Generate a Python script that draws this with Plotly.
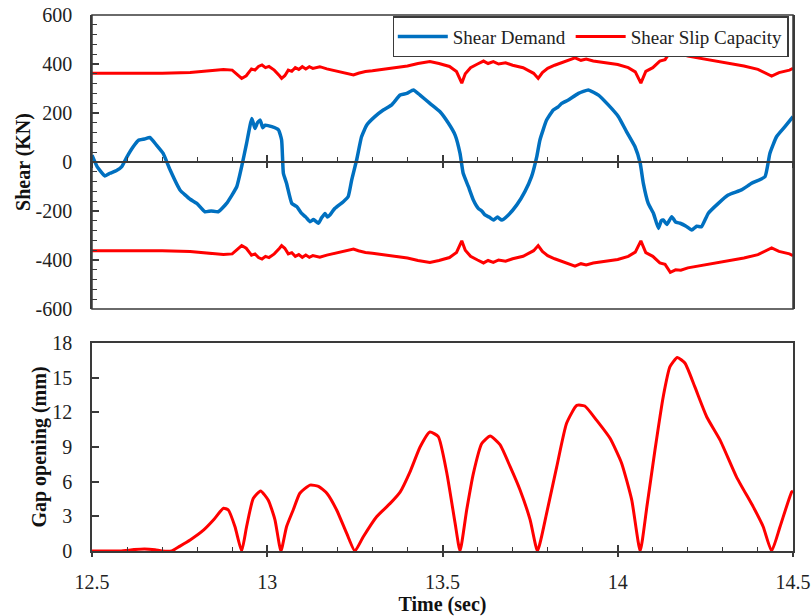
import plotly.graph_objects as go

# ---------------- data ----------------
t_demand = [12.500, 12.515, 12.537, 12.551, 12.570, 12.585, 12.599, 12.618, 12.632, 12.650,
            12.665, 12.684, 12.703, 12.723, 12.751, 12.780, 12.799, 12.822, 12.840, 12.860,
            12.884, 12.913, 12.927, 12.941, 12.956, 12.965, 12.972, 12.980, 12.987, 12.994,
            13.013, 13.032, 13.041, 13.046, 13.055, 13.070, 13.084, 13.098, 13.110, 13.122,
            13.132, 13.146, 13.155, 13.165, 13.172, 13.179, 13.193, 13.217, 13.231, 13.241,
            13.255, 13.269, 13.284, 13.307, 13.331, 13.355, 13.379, 13.398, 13.417, 13.436,
            13.464, 13.493, 13.517, 13.536, 13.550, 13.559, 13.574, 13.588, 13.602, 13.612,
            13.621, 13.633, 13.645, 13.657, 13.669, 13.688, 13.712, 13.735, 13.754, 13.769,
            13.778, 13.797, 13.816, 13.830, 13.840, 13.859, 13.888, 13.916, 13.945, 13.973,
            14.002, 14.025, 14.049, 14.064, 14.073, 14.087, 14.102, 14.116, 14.124, 14.130,
            14.140, 14.154, 14.165, 14.178, 14.195, 14.211, 14.225, 14.239, 14.258, 14.287,
            14.315, 14.353, 14.382, 14.420, 14.434, 14.453, 14.477, 14.500]
shear_demand = [28, -20, -57, -46, -35, -19, 19, 63, 88, 94,
                100, 69, 35, -33, -114, -152, -169, -203, -200, -203,
                -169, -101, -19, 76, 178, 137, 160, 171, 140, 150,
                144, 131, 90, -46, -87, -169, -182, -210, -225, -244,
                -235, -250, -228, -210, -225, -216, -189, -162, -141, -73,
                8, 103, 151, 185, 212, 233, 273, 280, 294, 273,
                239, 205, 158, 110, 35, -46, -101, -155, -189, -200,
                -216, -225, -237, -225, -237, -216, -175, -121, -60, 22,
                90, 171, 212, 225, 239, 253, 280, 294, 273, 233,
                185, 124, 63, -5, -87, -169, -210, -271, -240, -237,
                -255, -223, -245, -250, -262, -278, -262, -264, -210, -169,
                -135, -114, -87, -60, 35, 103, 144, 185]

t_capacity = [12.50, 12.60, 12.70, 12.78, 12.83, 12.875, 12.90, 12.915, 12.927, 12.94,
              12.955, 12.965, 12.975, 12.985, 12.995, 13.005, 13.02, 13.035, 13.041, 13.05,
              13.06, 13.07, 13.08, 13.09, 13.10, 13.11, 13.12, 13.13, 13.15, 13.17,
              13.20, 13.225, 13.246, 13.26, 13.28, 13.30, 13.33, 13.36, 13.40, 13.43,
              13.464, 13.49, 13.52, 13.54, 13.555, 13.565, 13.58, 13.60, 13.617, 13.63,
              13.645, 13.66, 13.68, 13.70, 13.73, 13.76, 13.773, 13.785, 13.80, 13.82,
              13.84, 13.86, 13.878, 13.895, 13.91, 13.93, 13.96, 14.00, 14.03, 14.05,
              14.066, 14.08, 14.10, 14.12, 14.135, 14.15, 14.165, 14.18, 14.20, 14.23,
              14.26, 14.29, 14.32, 14.36, 14.40, 14.439, 14.46, 14.475, 14.49, 14.50]
slip_capacity = [362, 361, 362, 365, 372, 378, 375, 355, 341, 352,
                 380, 375, 390, 396, 385, 390, 375, 352, 341, 352,
                 375, 370, 385, 378, 389, 380, 389, 382, 389, 380,
                 370, 360, 355, 362, 369, 372, 378, 385, 392, 402,
                 410, 402, 390, 369, 322, 360, 385, 400, 412, 402,
                 410, 400, 405, 395, 385, 362, 341, 365, 382, 395,
                 405, 418, 425, 415, 420, 412, 405, 398, 385, 368,
                 322, 370, 385, 412, 418, 450, 440, 442, 432, 425,
                 418, 410, 402, 392, 378, 351, 365, 370, 375, 382]

t_gap = [12.50, 12.58, 12.62, 12.65, 12.68, 12.70, 12.727, 12.75, 12.78, 12.818,
         12.847, 12.875, 12.889, 12.908, 12.927, 12.941, 12.960, 12.981, 13.003, 13.022,
         13.039, 13.055, 13.074, 13.093, 13.122, 13.146, 13.170, 13.198, 13.227, 13.250,
         13.274, 13.312, 13.350, 13.379, 13.408, 13.436, 13.464, 13.488, 13.512, 13.536,
         13.550, 13.569, 13.588, 13.612, 13.636, 13.664, 13.693, 13.721, 13.750, 13.771,
         13.797, 13.826, 13.854, 13.883, 13.906, 13.940, 13.978, 14.011, 14.040, 14.064,
         14.083, 14.106, 14.130, 14.149, 14.170, 14.192, 14.220, 14.254, 14.292, 14.339,
         14.387, 14.415, 14.439, 14.463, 14.496, 14.500]
gap_opening = [0, 0, 0.12, 0.17, 0.1, 0, 0, 0.4, 0.95, 1.8,
               2.7, 3.7, 3.55, 2.1, 0, 2.1, 4.55, 5.2, 4.4, 2.7,
               0, 2.1, 3.55, 5.0, 5.7, 5.6, 5.0, 3.55, 1.5, 0,
               1.24, 2.97, 4.1, 5.1, 6.9, 9.0, 10.3, 9.9, 6.8, 2.4,
               0, 3.55, 6.7, 9.3, 9.95, 9.2, 7.3, 5.3, 2.7, 0,
               3.26, 7.3, 11.05, 12.6, 12.55, 11.3, 9.75, 7.6, 4.4, 0,
               3.8, 8.7, 13.4, 15.95, 16.75, 16.25, 14.2, 11.6, 9.6, 6.4,
               3.8, 2.1, 0, 2.1, 5.1, 5.2]

x_ticks = [12.5, 13, 13.5, 14, 14.5]
x_ticktext = ["12.5", "13", "13.5", "14", "14.5"]
shear_ticks = [-600, -400, -200, 0, 200, 400, 600]
shear_ticktext = ["-600", "-400", "-200", "0", "200", "400", "600"]
gap_ticks = [0, 3, 6, 9, 12, 15, 18]

# ---------------- styling ----------------
BLUE = "#0070C0"
RED = "#FF0000"
AX = "#3a3a3a"
SERIF = "Liberation Serif, Times New Roman, serif"
FS = 20

top_dom = [0.4515, 1.0]
bot_dom = [0.0, 0.388]
zero_pos = top_dom[0] + (top_dom[1] - top_dom[0]) * 0.5

fig = go.Figure()

fig.add_trace(go.Scatter(x=t_demand, y=shear_demand, mode="lines", name="Shear Demand",
                         line=dict(color=BLUE, width=3.5, shape="spline", smoothing=0.4),
                         xaxis="x", yaxis="y", legendgroup="d"))
fig.add_trace(go.Scatter(x=t_capacity, y=slip_capacity, mode="lines", name="Shear Slip Capacity",
                         line=dict(color=RED, width=3), xaxis="x", yaxis="y",
                         legendgroup="c"))
fig.add_trace(go.Scatter(x=t_capacity, y=[-v for v in slip_capacity], mode="lines",
                         name="Shear Slip Capacity", showlegend=False,
                         line=dict(color=RED, width=3), xaxis="x", yaxis="y",
                         legendgroup="c"))
fig.add_trace(go.Scatter(x=t_gap, y=gap_opening, mode="lines", showlegend=False,
                         line=dict(color=RED, width=3, shape="spline", smoothing=0.5),
                         xaxis="x2", yaxis="y2"))

tickfont = dict(family=SERIF, size=FS, color="#222")
titlefont = dict(family=SERIF, size=FS, color="#111", weight="bold")

fig.update_layout(
    width=812, height=616,
    margin=dict(l=92, r=19, t=15, b=65, autoexpand=False),
    paper_bgcolor="white", plot_bgcolor="white",
    showlegend=True,
    legend=dict(x=0.994, y=0.998, xanchor="right", yanchor="top", orientation="h",
                bgcolor="white", bordercolor=AX, borderwidth=1.5,
                font=dict(family=SERIF, size=19, color="#222"),
                itemwidth=50, tracegroupgap=0),
    # top panel x axis drawn at y = 0
    xaxis=dict(range=[12.5, 14.5], anchor="free", position=zero_pos, automargin=False,
               showline=True, linecolor=AX, linewidth=1.5,
               ticks="inside", ticklen=6, tickcolor=AX, tickwidth=1.5,
               tickvals=x_ticks, showticklabels=False, showgrid=False, zeroline=False,
               minor=dict(dtick=0.1, tick0=12.5, ticks="inside", ticklen=4,
                          tickcolor=AX, tickwidth=1.2, showgrid=False)),
    xaxis3=dict(range=[12.5, 14.5], overlaying="x", anchor="free", position=zero_pos,
                automargin=False,
                showline=False, ticks="outside", ticklen=5, tickcolor=AX, tickwidth=1.5,
                tickvals=x_ticks, showticklabels=False, showgrid=False, zeroline=False),
    yaxis=dict(domain=top_dom, range=[-600, 600], anchor="x", automargin=False,
               showline=True, linecolor=AX, linewidth=1.5, mirror=True,
               ticks="inside", ticklen=7, tickcolor=AX, tickwidth=1.5,
               tickvals=shear_ticks, ticktext=shear_ticktext,
               tickfont=tickfont, ticklabelstandoff=14,
               showgrid=False, zeroline=False,
               minor=dict(dtick=40, tick0=0, ticks="inside", ticklen=5,
                          tickcolor=AX, tickwidth=1.2, showgrid=False),
               title=dict(text="Shear (KN)", font=titlefont, standoff=0)),
    # bottom panel
    xaxis2=dict(range=[12.5, 14.5], anchor="y2", automargin=False,
                showline=True, linecolor=AX, linewidth=1.5, mirror=True,
                ticks="inside", ticklen=6, tickcolor=AX, tickwidth=1.5,
                tickvals=x_ticks, ticktext=x_ticktext, tickfont=tickfont,
                ticklabelstandoff=12, showgrid=False, zeroline=False,
                minor=dict(dtick=0.1, tick0=12.5, ticks="inside", ticklen=4,
                           tickcolor=AX, tickwidth=1.2, showgrid=False),
                title=dict(text="Time (sec)", font=titlefont, standoff=11)),
    xaxis4=dict(range=[12.5, 14.5], overlaying="x2", anchor="y2", automargin=False,
                showline=False, ticks="outside", ticklen=5, tickcolor=AX, tickwidth=1.5,
                tickvals=x_ticks, showticklabels=False, showgrid=False, zeroline=False),
    yaxis2=dict(domain=bot_dom, range=[0, 18], anchor="x2", automargin=False,
                showline=True, linecolor=AX, linewidth=1.5, mirror=True,
                ticks="inside", ticklen=7, tickcolor=AX, tickwidth=1.5,
                tickvals=gap_ticks,
                tickfont=tickfont, ticklabelstandoff=14,
                showgrid=False, zeroline=False,
                title=dict(text="Gap opening (mm)", font=titlefont, standoff=0)),
    shapes=[dict(type="rect", xref="x domain", yref="y domain", x0=0, x1=1, y0=0, y1=1,
                 line=dict(color=AX, width=1.5), fillcolor="rgba(0,0,0,0)", layer="above")],
)

# invisible helper traces so the overlay tick axes are rendered
fig.add_trace(go.Scatter(x=[12.5], y=[None], xaxis="x3", yaxis="y", showlegend=False,
                         hoverinfo="skip"))
fig.add_trace(go.Scatter(x=[12.5], y=[None], xaxis="x4", yaxis="y2", showlegend=False,
                         hoverinfo="skip"))

fig.write_html("out.html")
